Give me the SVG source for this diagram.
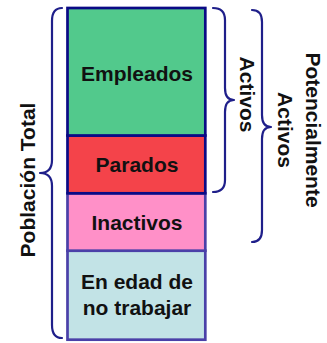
<svg xmlns="http://www.w3.org/2000/svg" width="327" height="343" viewBox="0 0 327 343">
<style>
.lbl{font-family:"Liberation Sans",Arial,sans-serif;font-weight:bold;font-size:21px;fill:#111;text-anchor:middle}
.brace{fill:none;stroke:#1f1f8a;stroke-width:2.2;stroke-linecap:round;stroke-linejoin:round}
.top{stroke:#0a0a85;stroke-width:2.7}
.low{stroke:#4a40a8;stroke-width:2.7}
</style>
<rect width="327" height="343" fill="#fff"/>
<g id="en-edad">
<rect x="67.5" y="250.7" width="137.8" height="89" fill="#c2e3e6" class="low"/>
<text class="lbl" x="137" y="289">En edad de</text>
<text class="lbl" x="137" y="315">no trabajar</text>
</g>
<g id="inactivos">
<rect x="67.5" y="193.3" width="137.8" height="57.4" fill="#ff90c8" class="low"/>
<text class="lbl" x="137" y="230">Inactivos</text>
</g>
<g id="parados">
<rect x="67.5" y="135.5" width="137.8" height="57.8" fill="#f4434a" class="top"/>
<text class="lbl" x="137" y="172">Parados</text>
</g>
<g id="empleados">
<rect x="67.5" y="8" width="137.8" height="127.5" fill="#52c98c" class="top"/>
<text class="lbl" x="137" y="80.5">Empleados</text>
</g>
<g id="connectors">
<path class="brace" d="M62 8 Q52 8 52 21 L52 160 Q52 173 40 173 Q52 173 52 186 L52 325 Q52 338 62 338"/>
<path class="brace" d="M213 8 Q225 8 225 20 L225 88 Q225 100 234 100 Q225 100 225 112 L225 180 Q225 192 213 192"/>
<path class="brace" d="M252 10 Q262 10 262 22 L262 115 Q262 127 271 127 Q262 127 262 139 L262 230 Q262 242 252 242"/>
</g>
<g id="poblacion-total">
<text class="lbl" transform="translate(27 180) rotate(-90)" x="0" y="7.5">Población Total</text>
</g>
<g id="activos">
<text class="lbl" transform="translate(247 94.5) rotate(90)" x="0" y="7.5">Activos</text>
</g>
<g id="potencialmente-activos">
<text class="lbl" transform="translate(313 130) rotate(90)" x="0" y="7.5">Potencialmente</text>
<text class="lbl" transform="translate(285 130) rotate(90)" x="0" y="7.5">Activos</text>
</g>
</svg>
